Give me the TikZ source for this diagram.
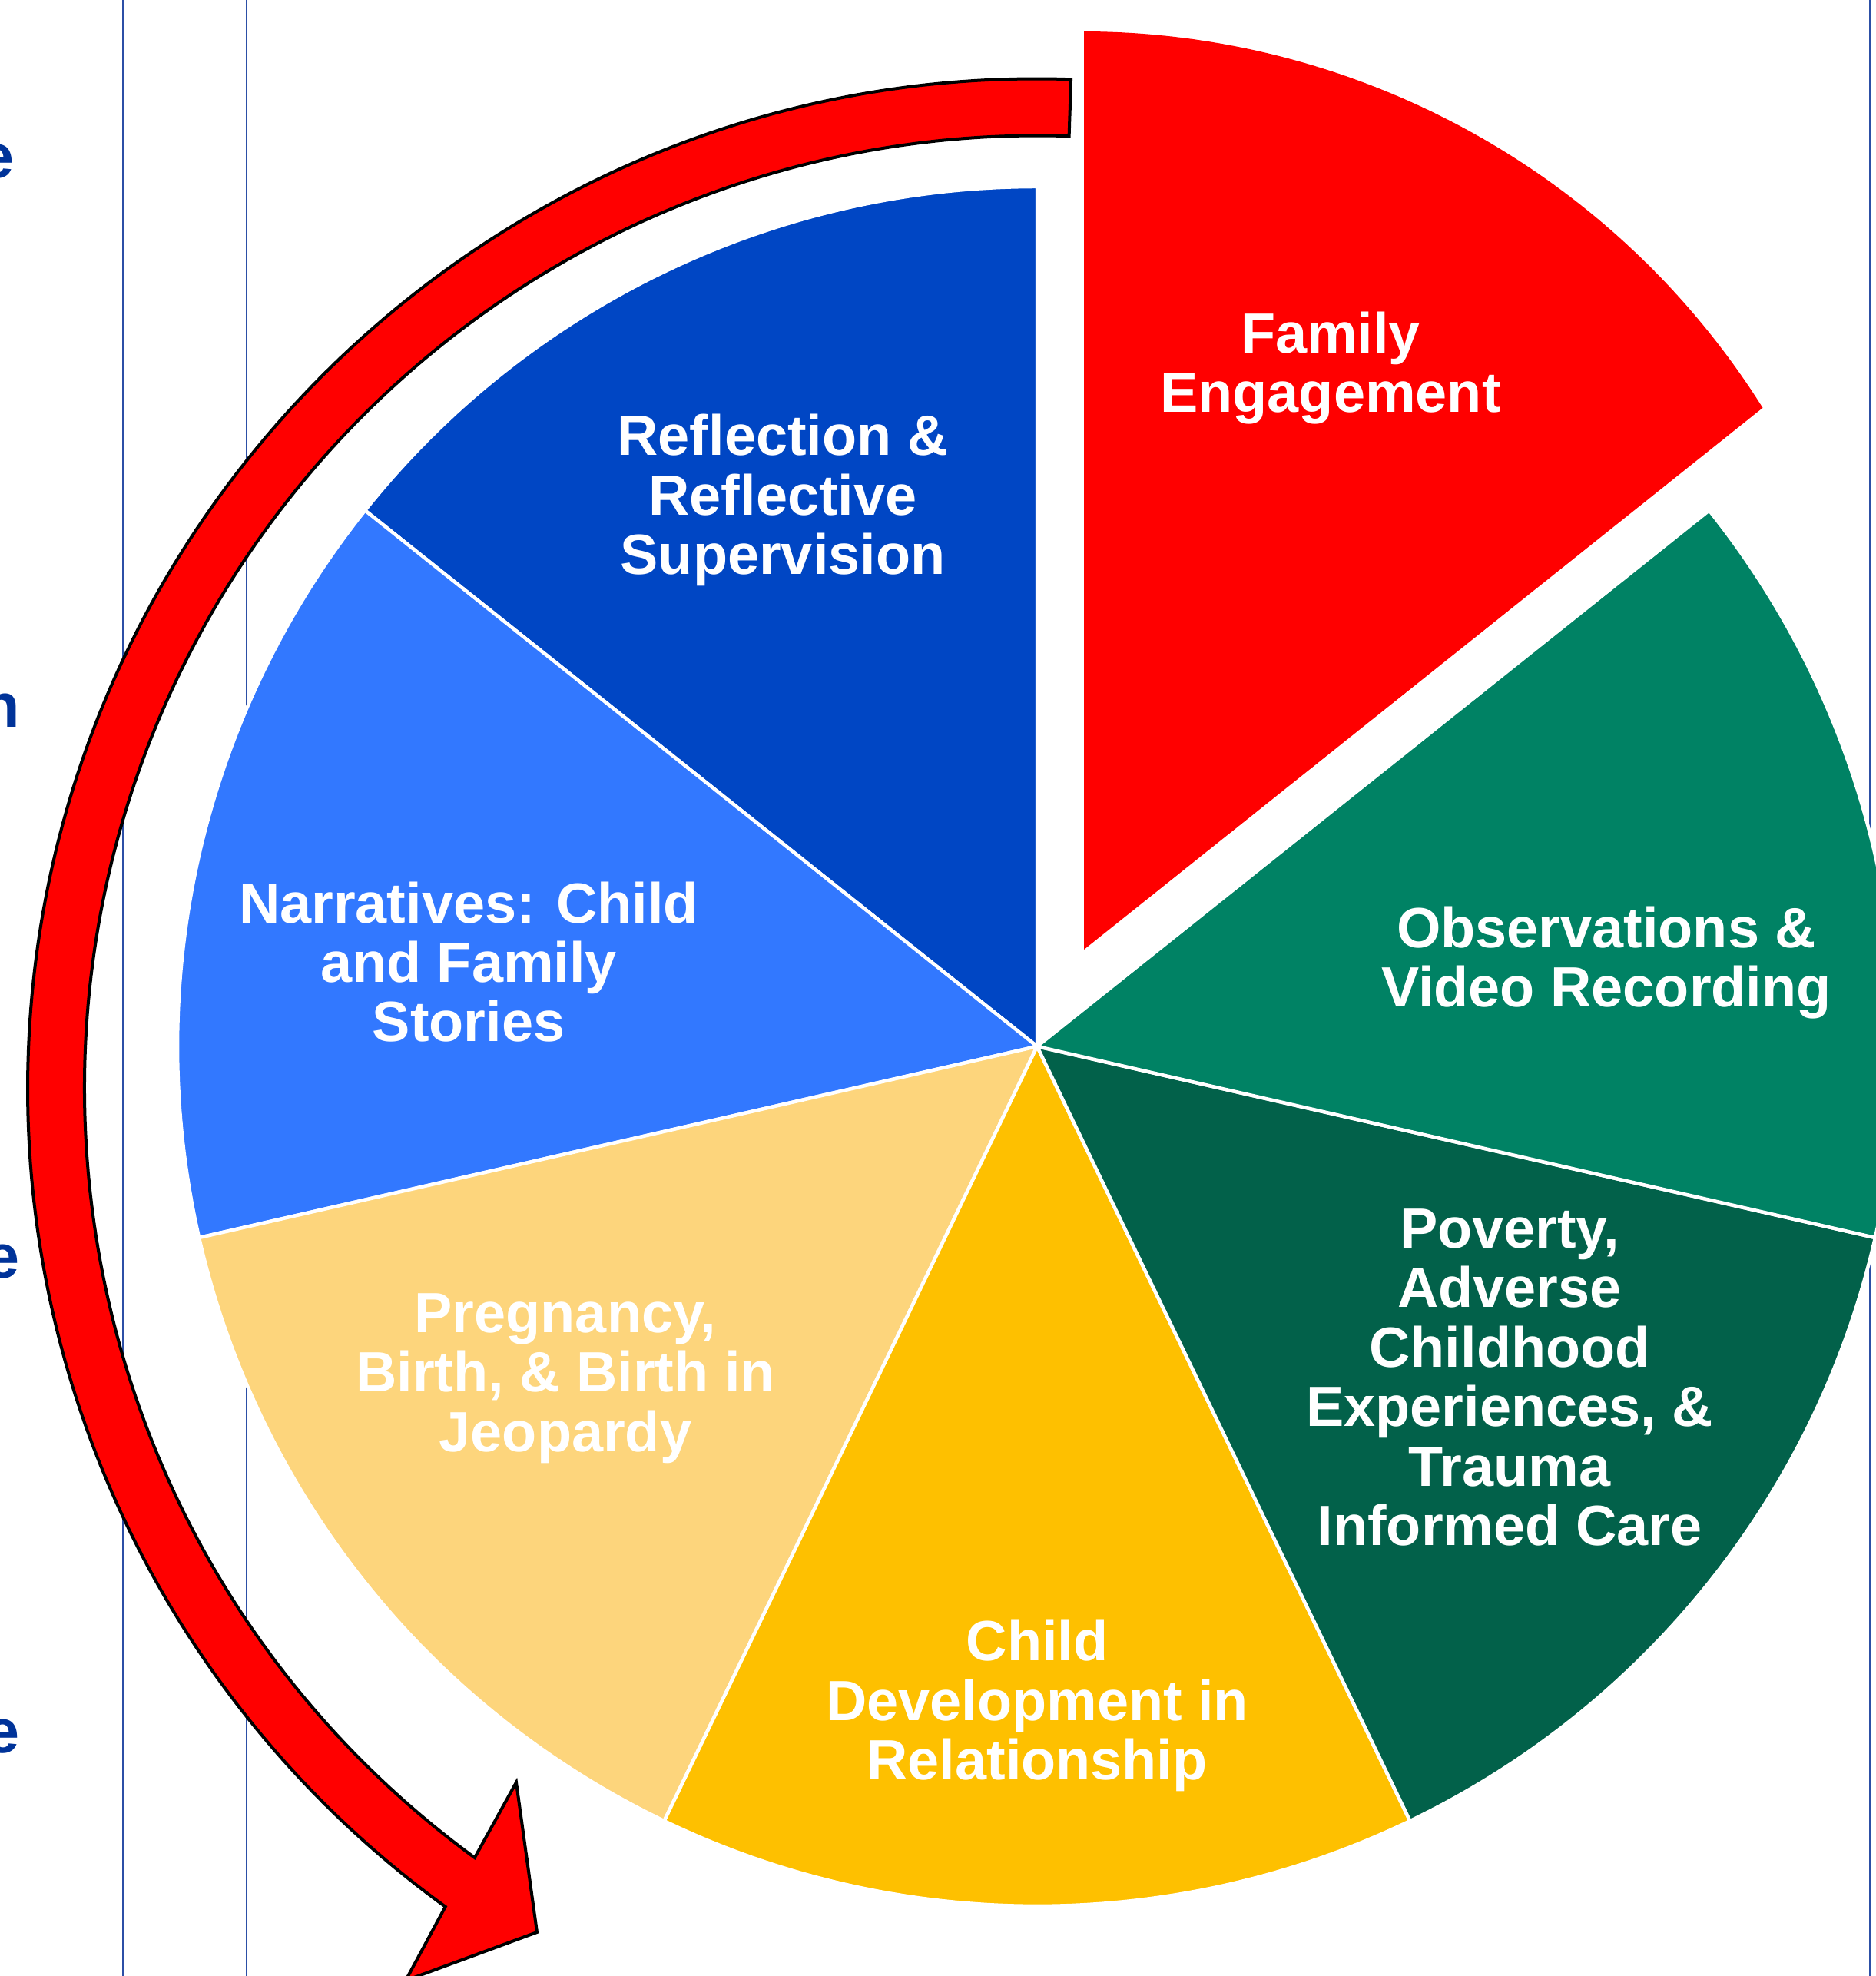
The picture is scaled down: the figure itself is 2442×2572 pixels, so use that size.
\documentclass[tikz,border=0pt]{standalone}
\usepackage{fontspec}
\setmainfont{Liberation Sans}
\usetikzlibrary{calc}
\definecolor{slicedarkblue}{HTML}{0046C4}
\definecolor{slicelightblue}{HTML}{3278FF}
\definecolor{slicecream}{HTML}{FDD57C}
\definecolor{sliceyellow}{HTML}{FEC000}
\definecolor{slicedarkgreen}{HTML}{02614A}
\definecolor{slicegreen}{HTML}{008264}
\definecolor{slicered}{HTML}{FF0000}
\definecolor{rulecolor}{HTML}{2C4FA6}
\definecolor{edgetext}{HTML}{003399}
\tikzset{
  slice/.style={draw=white, line width=0.045cm, line join=round},
  label/.style={text=white, align=center, inner sep=0pt,
    font=\fontsize{21pt}{22pt}\selectfont\bfseries},
  rule/.style={draw=rulecolor, line width=0.025cm},
  cyclearrow/.style={fill=slicered, draw=black, line width=0.04cm, line join=miter},
  edgeword/.style={text=edgetext, inner sep=0pt, anchor=base east,
    font=\fontsize{23pt}{25pt}\selectfont\bfseries}
}
\begin{document}
\begin{tikzpicture}[x=0.01cm,y=0.01cm]
\useasboundingbox (0,0) rectangle (2442,2572);
\clip (0,0) rectangle (2442,2572);
\fill[white] (0,0) rectangle (2442,2572);

% thin vertical rules behind the chart
\draw[rule] (160,0) -- (160,2572);
\draw[rule] (321,0) -- (321,2572);
\draw[rule] (2434,0) -- (2434,2572);

% word endings along the left margin
\node[edgeword] (w1) at (19,2340) {e};
\node[edgeword] (w2) at (27,1625) {n};
\node[edgeword] (w3) at (26,908) {e};
\node[edgeword] (w4) at (26,290) {e};

% pie of six slices around the centre
\coordinate (O) at (1350,1210);
\foreach \a/\b/\c in {90/141.43/slicedarkblue, 141.43/192.86/slicelightblue,
    192.86/244.29/slicecream, 244.29/295.71/sliceyellow,
    295.71/347.14/slicedarkgreen, 347.14/398.57/slicegreen}
  \filldraw[slice, fill=\c] (O) -- ++(\a:1119) arc[start angle=\a, end angle=\b, radius=1119] -- cycle;

% the pulled-out slice
\coordinate (A) at (1411,1336);
\fill[slicered] (A) -- (1411,2531) arc[start angle=89.84, end angle=32.15, radius=1047] -- cycle;

% curved arrow around the left side
\coordinate (K) at (1350.5,1155);
\coordinate (B1) at (672,252);
\coordinate (T) at (699,57);
\coordinate (B2) at (528,-6);
\draw[cyclearrow] ([shift={(K)}]88.1:1314.5)
  arc[start angle=88.1, end angle=234.1, radius=1314.5]
  -- (B2) -- (T) -- (B1)
  -- ([shift={(K)}]233.8:1240.5)
  arc[start angle=233.8, end angle=88.1, radius=1240.5] -- cycle;

% slice labels
\node[label] (fam) at (1732,2093) {Family\\Engagement};
\node[label] (refl) at (1019,1921) {Reflection \&\\Reflective\\Supervision};
\node[label] (narr) at (610,1320) {Narratives: Child\\and Family\\Stories};
\node[label] (preg) at (736,778) {Pregnancy,\\Birth, \& Birth in\\Jeopardy};
\node[label] (dev) at (1350,352) {Child\\Development in\\Relationship};
\node[label] (pov) at (1965,779) {Poverty,\\Adverse\\Childhood\\Experiences, \&\\Trauma\\Informed Care};
\node[label] (obs) at (2091,1319) {Observations \&\\Video Recording};
\end{tikzpicture}
\end{document}
